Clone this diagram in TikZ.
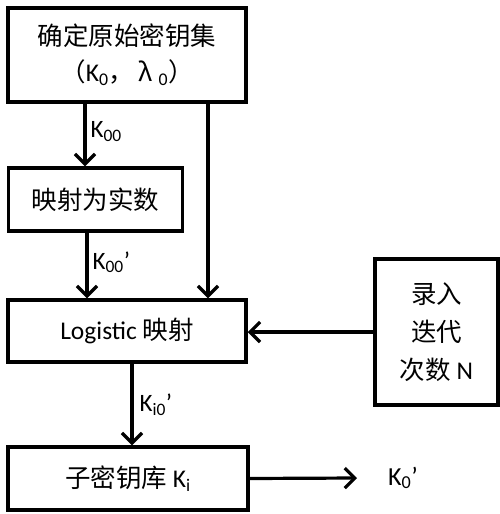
\documentclass[tikz,border=0pt]{standalone}
\usepackage{fontspec}
\setmainfont{Carlito}
\newfontfamily\cjk{Noto Sans CJK SC}
\usetikzlibrary{arrows.meta,positioning}

\begin{document}
\begin{tikzpicture}[x=1pt,y=-1pt,
  >={Straight Barb[length=10pt,width=20pt,line width=3.2pt]},
  box/.style={draw,line width=3.5pt,inner sep=0pt,align=center,font=\fontsize{25.5}{36}\selectfont},
  lbl/.style={font=\fontsize{25}{28}\selectfont,anchor=west,inner sep=0pt}]
\useasboundingbox (0,0) rectangle (500,514);
\path
(127,55)    node[box,minimum width=238pt,minimum height=94pt] (keyset) {{\cjk 确定原始密钥集}\\{\cjk （}K\textsubscript{0}{\cjk ，\,λ}\textsubscript{\,\,0}{\cjk ）}}
(95.5,199.5) node[box,minimum width=174pt,minimum height=63pt] (real) {\cjk 映射为实数}
(127,331)   node[box,minimum width=238pt,minimum height=62pt] (logi) {Logistic {\cjk 映射}}
(436.5,332) node[box,minimum width=123pt,minimum height=146pt,font=\fontsize{25.5}{38}\selectfont] (iter) {{\cjk 录入}\\{\cjk 迭代}\\{\cjk 次数} N}
(128,478.5) node[box,minimum width=240pt,minimum height=63pt] (subkey) {{\cjk 子密钥库} K\textsubscript{i}}
(403,478)   node[font=\fontsize{26}{28}\selectfont] (kout) {K\textsubscript{0}’};

\coordinate (out) at (357,478);

\draw[->,line width=3.2pt] ([xshift=-42pt]keyset.south) -- ([xshift=-10.5pt]real.north) node[lbl,pos=.45,right=4pt] (k00) {K\textsubscript{00}};
\draw[->,line width=3.2pt] ([xshift=-8.5pt]real.south) -- ([xshift=-8.5pt]real.south |- logi.north) node[lbl,pos=.45,right=4pt] (k00p) {K\textsubscript{00}’};
\draw[->,line width=3.2pt] ([xshift=81pt]keyset.south) -- ([xshift=81pt]keyset.south |- logi.north);
\draw[->,line width=3.2pt] (iter.west) -- (iter.west -| logi.east);
\draw[->,line width=3.2pt] ([xshift=5pt]logi.south) -- ([xshift=5pt]logi.south |- subkey.north) node[lbl,pos=.5,right=6pt] (ki0p) {K\textsubscript{i0}’};
\draw[->,line width=3.2pt] (subkey.east) -- (out);
\end{tikzpicture}
\end{document}
